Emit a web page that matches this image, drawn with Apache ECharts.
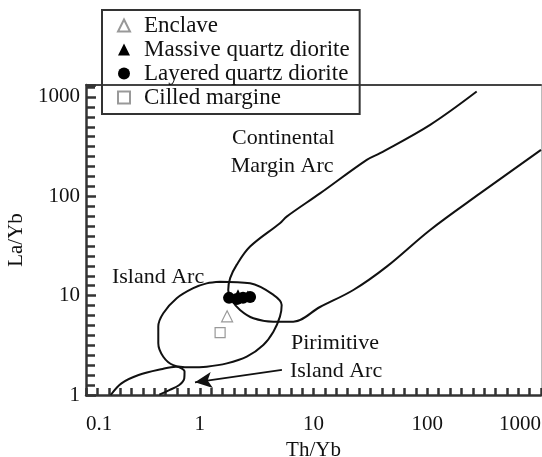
<!DOCTYPE html>
<html>
<head>
<meta charset="utf-8">
<script src="https://cdn.jsdelivr.net/npm/echarts@6/dist/echarts.min.js"></script>
<style>
html,body{margin:0;padding:0;background:#fff;}
#c{width:542px;height:457px;}
</style>
</head>
<body>
<div id="c"></div>
<script>
// ---- data (Th/Yb, La/Yb) ----
const xName = 'Th/Yb';
const yName = 'La/Yb';
const legendNames = ['Enclave', 'Massive quartz diorite', 'Layered quartz diorite', 'Cilled margine'];

const enclave = [[1.74, 6.2]];
const massive = [[2.17, 10.2], [2.65, 9.9]];
const layered = [[1.81, 9.5], [2.12, 9.26], [2.40, 9.5], [2.77, 9.7]];
const cilled = [[1.51, 4.24]];

// field boundaries
const islandArc = [
  [1.51, 13.8], [2.77, 13.3], [4.44, 10.2], [5.25, 8.06], [5.07, 6.15], [4.44, 4.34],
  [3.62, 3.19], [2.59, 2.43], [1.73, 2.08], [1.15, 1.93], [0.82, 1.90], [0.585, 2.00],
  [0.478, 2.43], [0.432, 3.32], [0.432, 4.88], [0.478, 6.65], [0.627, 9.42], [0.877, 11.9],
  [1.15, 13.3], [1.51, 13.8]
];
const primitiveArc = [
  [0.165, 1.0], [0.205, 1.31], [0.29, 1.59], [0.472, 1.83], [0.618, 1.92], [0.735, 1.72],
  [0.731, 1.47], [0.661, 1.26], [0.540, 1.12], [0.441, 1.01]
];
const continentalArc = [
  [272, 1134], [106, 524], [38.5, 272], [29.4, 233], [11.4, 107], [5.81, 62.5], [5.07, 53.6],
  [2.77, 31.2], [2.11, 20.4], [1.85, 15.0], [1.78, 11.4], [1.91, 9.05], [2.26, 7.18],
  [2.96, 5.92], [4.44, 5.47], [6.64, 5.47], [11.4, 7.69], [22.4, 11.4], [44.0, 19.6],
  [106, 45.9], [291, 107], [1000, 293]
];
const arrowTail = [5.28, 1.79];
const arrowHead = [0.908, 1.34];

const annotations = [
  { name: 'Continental', value: [1.92, 387] },
  { name: 'Margin Arc', value: [1.87, 202] },
  { name: 'Island Arc', value: [0.169, 15.4] },
  { name: 'Pirimitive', value: [6.34, 3.30] },
  { name: 'Island Arc', value: [6.21, 1.75] }
];

// axis ranges
const xMin = 0.1, xMax = 1000;
const yMin = 1, yMax = 1320;

// ---- chart ----
const FONT = 'Liberation Serif';
const DARK = '#111';
const TICK = '#333';
const chart = echarts.init(document.getElementById('c'));

const fieldLine = (data) => ({
  type: 'line', data: data, smooth: 0.35, showSymbol: false, symbol: 'none',
  lineStyle: { color: DARK, width: 2 }, silent: true, z: 2, animation: false
});
const fmt = (v) => String(+Number(v).toPrecision(6));
const lg = (v) => Math.log10(v);

chart.setOption({
  animation: false,
  grid: { left: 86, right: 1, top: 85, bottom: 62, containLabel: false, outerBoundsMode: 'none' },
  legend: {
    orient: 'vertical', left: 102, top: 10,
    data: [
      { name: legendNames[0], icon: 'triangle' },
      { name: legendNames[1], icon: 'triangle' },
      { name: legendNames[2], icon: 'circle' },
      { name: legendNames[3], icon: 'rect' }
    ],
    itemWidth: 12, itemHeight: 12, itemGap: 1,
    padding: [4, 10, 5, 15],
    borderColor: '#333', borderWidth: 2,
    textStyle: { fontFamily: FONT, fontSize: 23, lineHeight: 23, color: DARK, padding: [0, 0, 0, 9] },
    selectedMode: false
  },
  xAxis: [{
    type: 'log', min: xMin, max: xMax, logBase: 10, position: 'bottom',
    name: xName, nameLocation: 'middle', nameGap: 42,
    nameTextStyle: { fontFamily: FONT, fontSize: 21, color: DARK },
    axisLine: { show: true, onZero: false, lineStyle: { color: TICK, width: 2.5 } },
    axisTick: { show: false },
    axisLabel: { fontFamily: FONT, fontSize: 21, color: DARK, margin: 19, formatter: fmt,
      alignMinLabel: 'left', alignMaxLabel: 'right' },
    splitLine: { show: false }
  }, {
    type: 'log', min: xMin, max: xMax, position: 'top',
    axisLine: { show: true, onZero: false, lineStyle: { color: '#444', width: 2 } },
    axisTick: { show: false }, axisLabel: { show: false }, splitLine: { show: false }
  }, {
    // evenly spaced tick marks along the bottom, in decade units
    type: 'value', min: lg(xMin), max: lg(xMax), interval: 1, position: 'bottom',
    axisLine: { show: false, onZero: false }, axisLabel: { show: false }, splitLine: { show: false },
    axisTick: { show: true, inside: true, length: 7, lineStyle: { color: TICK, width: 2.5 } },
    minorTick: { show: true, splitNumber: 10, length: 7, lineStyle: { color: TICK, width: 2.5 } }
  }],
  yAxis: [{
    type: 'log', min: yMin, max: yMax, logBase: 10, position: 'left',
    name: yName, nameLocation: 'middle', nameGap: 56,
    nameTextStyle: { fontFamily: FONT, fontSize: 21, color: DARK },
    axisLine: { show: true, onZero: false, lineStyle: { color: TICK, width: 2.5 } },
    axisTick: { show: false },
    axisLabel: { fontFamily: FONT, fontSize: 21, color: DARK, margin: 6, formatter: fmt },
    splitLine: { show: false }
  }, {
    type: 'log', min: yMin, max: yMax, position: 'right',
    axisLine: { show: true, onZero: false, lineStyle: { color: '#bbb', width: 1 } },
    axisTick: { show: false }, axisLabel: { show: false }, splitLine: { show: false }
  }, {
    type: 'value', min: 0, max: lg(yMax), interval: 1, position: 'left',
    axisLine: { show: false, onZero: false }, axisLabel: { show: false }, splitLine: { show: false },
    axisTick: { show: true, inside: true, length: 10, lineStyle: { color: TICK, width: 2.5 } },
    minorTick: { show: true, splitNumber: 10, length: 9, lineStyle: { color: TICK, width: 2.5 } }
  }],
  series: [
    fieldLine(islandArc),
    fieldLine(primitiveArc),
    fieldLine(continentalArc),
    {
      type: 'scatter', data: annotations, symbolSize: 0, silent: true, z: 3,
      itemStyle: { opacity: 1 },
      label: { show: true, position: 'right', distance: 0, formatter: '{b}', opacity: 1,
        fontFamily: FONT, fontSize: 22, color: DARK },
      markLine: {
        silent: true, symbol: ['none', 'arrow'], symbolSize: [12, 17],
        label: { show: false },
        lineStyle: { color: DARK, width: 2, type: 'solid', opacity: 1 },
        data: [[{ coord: arrowTail }, { coord: arrowHead }]]
      }
    },
    {
      name: legendNames[0], type: 'scatter', data: enclave, symbol: 'triangle', symbolSize: 11,
      itemStyle: { color: '#fff', borderColor: '#999', borderWidth: 1.2, opacity: 1 }, z: 5
    },
    {
      name: legendNames[2], type: 'scatter', data: layered, symbol: 'circle', symbolSize: 12,
      itemStyle: { color: '#000', opacity: 1 }, z: 5
    },
    {
      name: legendNames[1], type: 'scatter', data: massive, symbol: 'triangle', symbolSize: 11,
      itemStyle: { color: '#000', opacity: 1 }, z: 6
    },
    {
      name: legendNames[3], type: 'scatter', data: cilled, symbol: 'rect', symbolSize: 10,
      itemStyle: { color: '#fff', borderColor: '#999', borderWidth: 1.2, opacity: 1 }, z: 5
    }
  ]
});
</script>
</body>
</html>
